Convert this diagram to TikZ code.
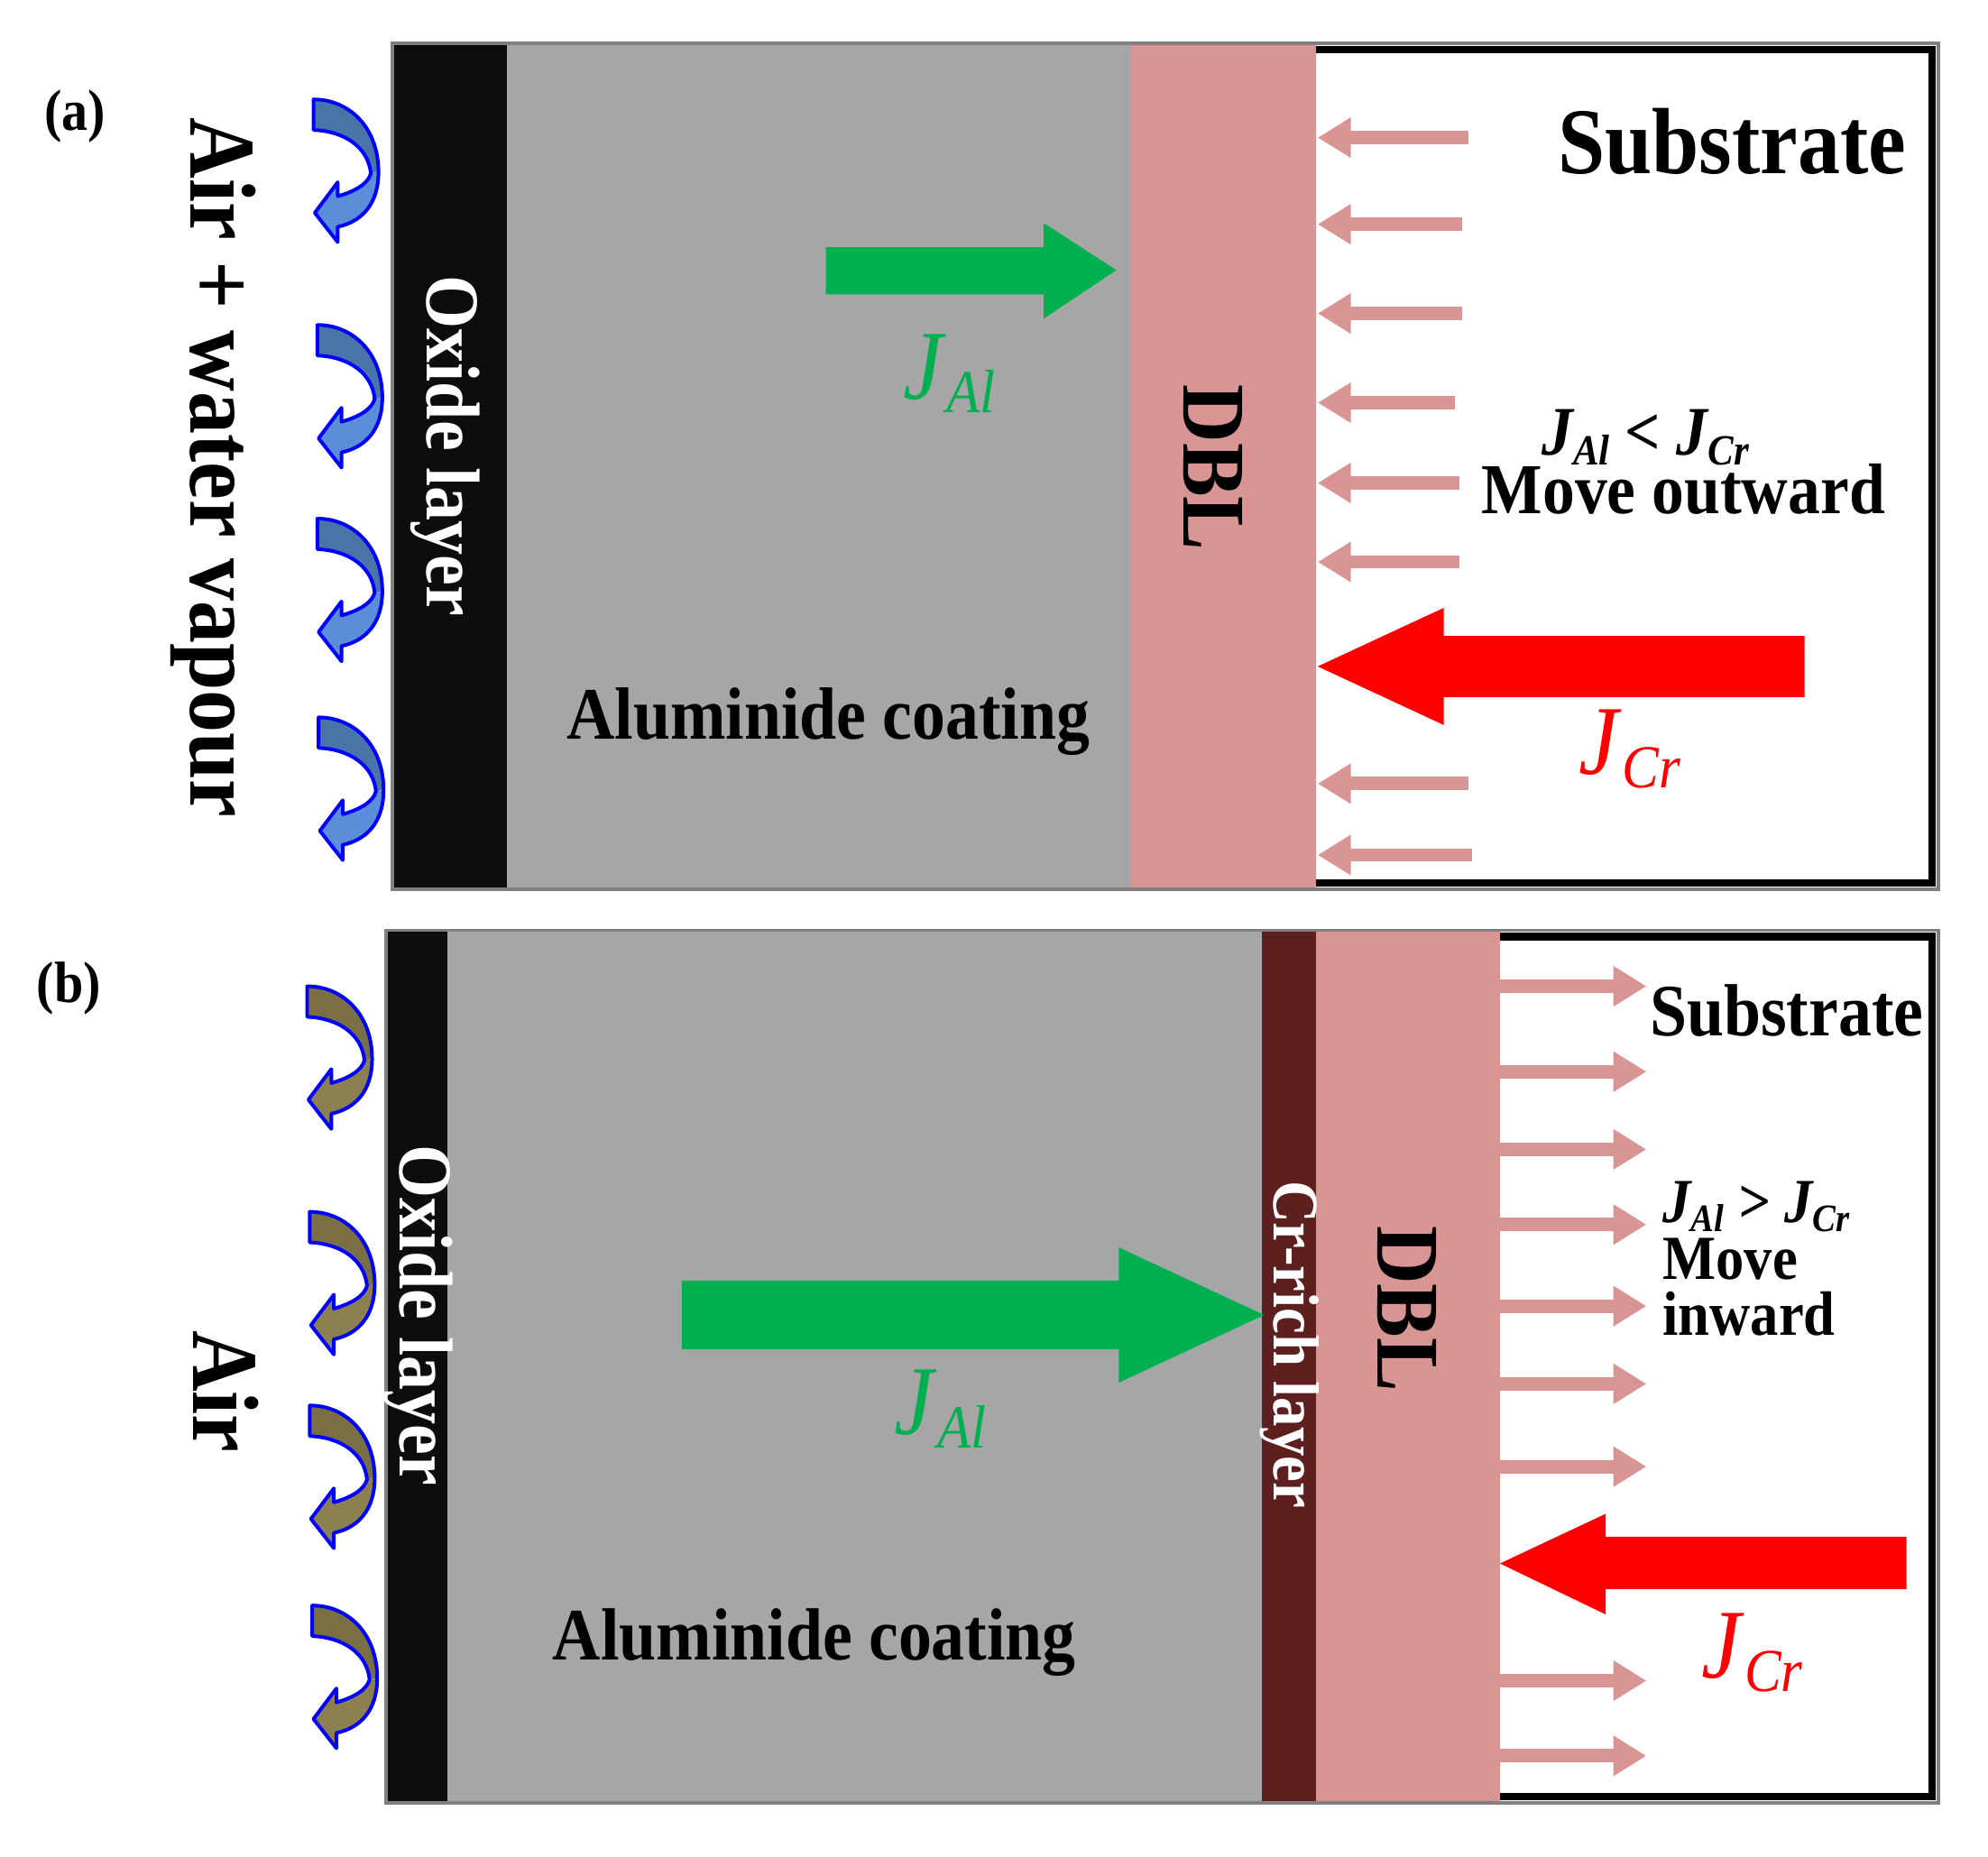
\documentclass[tikz,border=0pt]{standalone}
\usepackage{fontspec}
\setmainfont{Liberation Serif}[FakeStretch=0.9]
\usepackage{xcolor}
\usepackage{graphicx}
\usepackage{tikz}
\usetikzlibrary{arrows.meta}
\definecolor{coatgray}{HTML}{A6A6A6}
\definecolor{dblpink}{HTML}{D99594}
\definecolor{crbrown}{HTML}{5E1F1F}
\definecolor{oxblack}{HTML}{0D0D0D}
\definecolor{alflux}{HTML}{00B050}
\definecolor{crflux}{HTML}{FF0000}
\definecolor{curlblueD}{HTML}{4A74A8}
\definecolor{curlblueL}{HTML}{5B8DD9}
\definecolor{curlolivD}{HTML}{7A6E45}
\definecolor{curlolivL}{HTML}{8C8050}
\newcommand{\fsz}[1]{\fontsize{#1}{#1}\selectfont}
\newcommand{\flux}[1]{\textit{J}\raisebox{-0.3ex}{\scalebox{0.62}{\textit{#1}}}}
% curled gas arrow: #1 top-left corner, #2 back fill, #3 front fill
\newcommand{\curl}[3]{%
  \begin{scope}[shift={#1}]
    \fill[#2] (0,0) .. controls (28,0) and (51,22) .. (51,57) -- (45,58)
      .. controls (43,38) and (25,25) .. (0,24) -- cycle;
    \fill[#3] (51,57) .. controls (51,82) and (38,96) .. (19,100) -- (19,112)
      -- (1,89) -- (19,65) -- (19,76) .. controls (33,72) and (43,66) .. (45,58) -- cycle;
    \draw[curledge] (0,0) .. controls (28,0) and (51,22) .. (51,57)
      .. controls (51,82) and (38,96) .. (19,100) -- (19,112) -- (1,89) -- (19,65)
      -- (19,76) .. controls (33,72) and (43,66) .. (45,58)
      .. controls (43,38) and (25,25) .. (0,24) -- cycle;
  \end{scope}}

\begin{document}
\begin{tikzpicture}[>=Stealth, x=0.01cm, y=-0.01cm,
    txt/.style={inner sep=0pt, font=\bfseries},
    vtxt/.style={txt, rotate=-90},
    pinkarrow/.style={draw=dblpink, line width=0.105cm, -{Triangle[length=0.26cm, width=0.30cm]}},
    curledge/.style={draw=blue, line width=0.8pt, line join=round},
    panelbox/.style={draw=black!50, line width=0.025cm},
    subbox/.style={draw=black, line width=0.06cm}]
    \useasboundingbox (0,0) rectangle (1560,1457.35);

    % Panel (a): layers
    \fill[oxblack] (308,34) rectangle (398,698);
    \fill[coatgray] (398,34) rectangle (887,698);
    \fill[dblpink] (887,34) rectangle (1033,698);
    \draw[panelbox] (308,34) rectangle (1521,698);
    \draw[subbox] (1033,39) -| (1516,693) -- (1033,693);

    % Panel (a): fluxes
    \fill[alflux] (648,194) -- (819,194) -- (819,175) -- (876,212) -- (819,250) -- (819,231) -- (648,231) -- cycle;
    \fill[crflux] (1416,499) -- (1133,499) -- (1133,477) -- (1034,523) -- (1133,569) -- (1133,547) -- (1416,547) -- cycle;
    \foreach \yy/\xx in {108/1152, 176/1147, 246/1147, 316/1142, 379/1145, 441/1145, 615/1152, 671/1155}
        \draw[pinkarrow] (\xx,\yy) -- (1034,\yy);
    \foreach \cx/\cy in {246/78, 249/255, 249/407, 250/563}
        \curl{(\cx,\cy)}{curlblueD}{curlblueL};

    % Panel (a): labels
    \node[txt, font=\fsz{13pt}\bfseries] (labA) at (59,91) {(a)};
    \node[vtxt, anchor=base, font=\fsz{21pt}\bfseries] (airA) at (150,367) {Air + water vapour};
    \node[vtxt, anchor=base, text=white, font=\fsz{17pt}\bfseries] (oxA) at (335,350) {Oxide layer};
    \node[txt, anchor=base, font=\fsz{16.5pt}\bfseries] (coatA) at (650,580) {Aluminide coating};
    \node[txt, text=alflux, font=\fsz{22pt}] (jalA) at (745,293) {\flux{Al}};
    \node[vtxt, font=\fsz{20pt}\bfseries] (dblA) at (952,367) {DBL};
    \node[txt, anchor=base, font=\fsz{21pt}\bfseries] (subA) at (1359,136) {Substrate};
    \node[txt, anchor=base, align=center, font=\fsz{16pt}\bfseries] (movA) at (1321,403)
        {{\fsz{15.5pt}\itshape\flux{Al} < \flux{Cr}\hspace*{17pt}}\\[-3pt] Move outward};
    \node[txt, text=crflux, font=\fsz{22pt}] (jcrA) at (1279,588) {\flux{Cr}};

    % Panel (b): layers
    \fill[oxblack] (303,730) rectangle (351,1415);
    \fill[coatgray] (351,730) rectangle (990,1415);
    \fill[crbrown] (990,730) rectangle (1033,1415);
    \fill[dblpink] (1033,730) rectangle (1177,1415);
    \draw[panelbox] (303,730) rectangle (1521,1415);
    \draw[subbox] (1177,735) -| (1516,1410) -- (1177,1410);

    % Panel (b): fluxes
    \fill[alflux] (535,1005) -- (878,1005) -- (878,979) -- (992,1032) -- (878,1085) -- (878,1059) -- (535,1059) -- cycle;
    \fill[crflux] (1496,1206) -- (1260,1206) -- (1260,1188) -- (1177,1227) -- (1260,1267) -- (1260,1247) -- (1496,1247) -- cycle;
    \foreach \yy in {774, 841, 902, 961, 1025, 1086, 1151, 1319, 1378}
        \draw[pinkarrow] (1177,\yy) -- (1292,\yy);
    \foreach \cx/\cy in {241/774, 243/951, 243/1103, 245/1260}
        \curl{(\cx,\cy)}{curlolivD}{curlolivL};

    % Panel (b): labels
    \node[txt, font=\fsz{13pt}\bfseries] (labB) at (54,776) {(b)};
    \node[vtxt, anchor=base, font=\fsz{21pt}\bfseries] (airB) at (152,1092) {Air};
    \node[vtxt, anchor=base, text=white, font=\fsz{17pt}\bfseries] (oxB) at (314,1032) {Oxide layer};
    \node[txt, anchor=base, font=\fsz{16.5pt}\bfseries] (coatB) at (639,1303) {Aluminide coating};
    \node[txt, text=alflux, font=\fsz{22pt}] (jalB) at (738,1106) {\flux{Al}};
    \node[vtxt, anchor=base, text=white, font=\fsz{14.5pt}\bfseries] (crB) at (1000,1055) {Cr-rich layer};
    \node[vtxt, font=\fsz{20pt}\bfseries] (dblB) at (1104,1027) {DBL};
    \node[txt, anchor=base, font=\fsz{16.5pt}\bfseries] (subB) at (1402,813) {Substrate};
    \node[txt, anchor=base west, align=left, font=\fsz{14pt}\bfseries] (movB) at (1304,1048)
        {{\itshape\flux{Al} > \flux{Cr}}\\[-1.4pt] Move\\[-1.4pt] inward};
    \node[txt, text=crflux, font=\fsz{22pt}] (jcrB) at (1375,1297) {\flux{Cr}};
\end{tikzpicture}
\end{document}
